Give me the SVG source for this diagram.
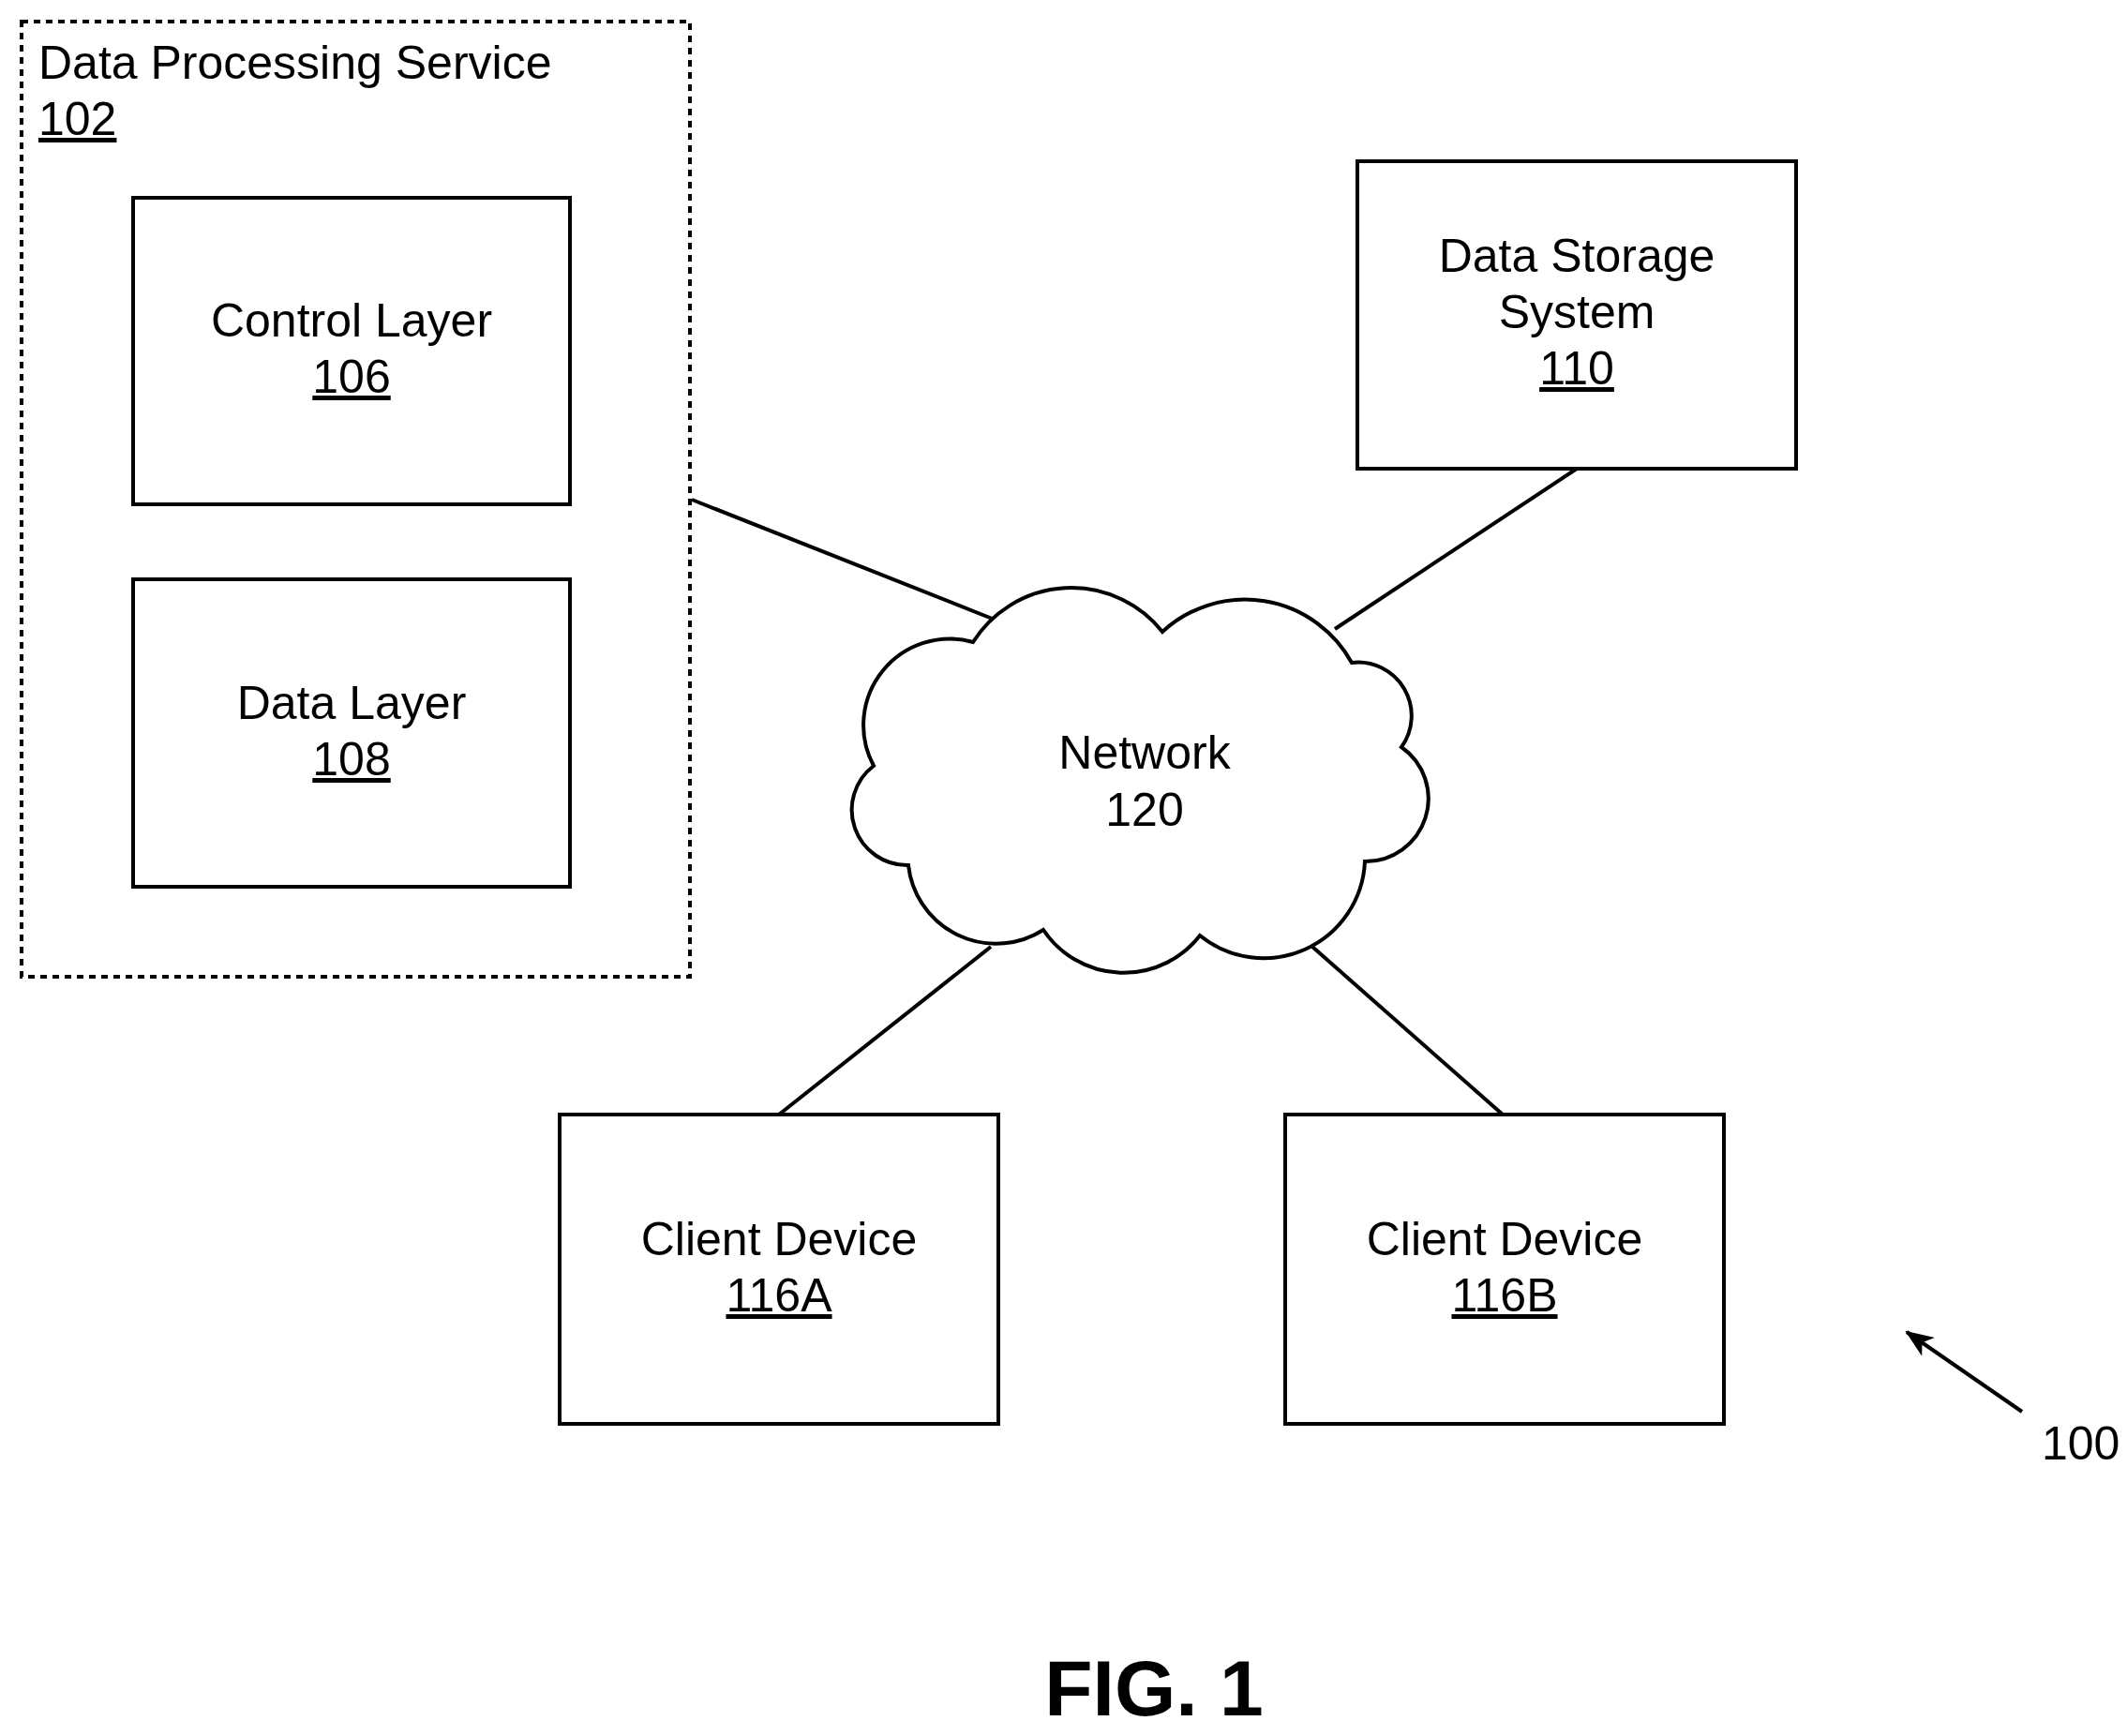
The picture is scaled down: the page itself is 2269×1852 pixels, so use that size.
<svg xmlns="http://www.w3.org/2000/svg" width="2269" height="1852" viewBox="0 0 2269 1852">
<style>
text{font-family:"Liberation Sans",Arial,sans-serif;font-size:50px;fill:#000}
.c{text-anchor:middle}
.u{text-decoration:underline}
.box{fill:#fff;stroke:#000;stroke-width:4}
.ln{stroke:#000;stroke-width:4;fill:none}
</style>
<defs>
<marker id="ah" markerWidth="30" markerHeight="24" refX="28" refY="12" orient="auto" markerUnits="userSpaceOnUse" viewBox="0 0 30 24"><path d="M0,0 L30,12 L0,24 L8,12 z" fill="#000"/></marker>
</defs>
<rect width="2269" height="1852" fill="#fff"/>
<g id="connectors">
<line class="ln" x1="738" y1="533" x2="1061" y2="661"/>
<line class="ln" x1="1682" y1="500" x2="1424" y2="671"/>
<line class="ln" x1="831" y1="1189" x2="1057" y2="1010"/>
<line class="ln" x1="1603" y1="1189" x2="1400" y2="1010"/>
</g>
<g id="dps102">
<rect x="23" y="23" width="713" height="1019" fill="none" stroke="#000" stroke-width="4" stroke-dasharray="7,6"/>
<text x="41" y="84">Data Processing Service</text>
<text x="41" y="144" class="u">102</text>
</g>
<g id="control106">
<rect class="box" x="142" y="211" width="466" height="327"/>
<text class="c" x="375" y="359">Control Layer</text>
<text class="c u" x="375" y="419">106</text>
</g>
<g id="data108">
<rect class="box" x="142" y="618" width="466" height="328"/>
<text class="c" x="375" y="767">Data Layer</text>
<text class="c u" x="375" y="827">108</text>
</g>
<g id="storage110">
<rect class="box" x="1448" y="172" width="468" height="328"/>
<text class="c" x="1682" y="290">Data Storage</text>
<text class="c" x="1682" y="350">System</text>
<text class="c u" x="1682" y="410">110</text>
</g>
<g id="network120">
<path class="box" d="M1038,685 A124,124 0 0 1 1240,674 A130,130 0 0 1 1442,707 A57,57 0 0 1 1495,797 A67,67 0 0 1 1456,919 A108,108 0 0 1 1280,998 A103,103 0 0 1 1113,992 A94,94 0 0 1 969,923 A59,59 0 0 1 932,817 A92,92 0 0 1 1038,685 Z"/>
<text class="c" x="1221" y="820">Network</text>
<text class="c" x="1221" y="881">120</text>
</g>
<g id="client116A">
<rect class="box" x="597" y="1189" width="468" height="330"/>
<text class="c" x="831" y="1339">Client Device</text>
<text class="c u" x="831" y="1399">116A</text>
</g>
<g id="client116B">
<rect class="box" x="1371" y="1189" width="468" height="330"/>
<text class="c" x="1605" y="1339">Client Device</text>
<text class="c u" x="1605" y="1399">116B</text>
</g>
<g id="ref100">
<line class="ln" x1="2157" y1="1506" x2="2034" y2="1421" marker-end="url(#ah)"/>
<text x="2178" y="1557">100</text>
</g>
<text class="c" x="1231" y="1830" style="font-weight:bold;font-size:84px">FIG. 1</text>
</svg>
